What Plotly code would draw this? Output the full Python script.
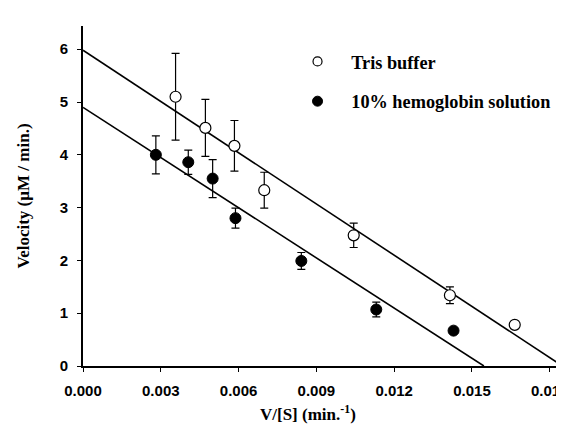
import plotly.graph_objects as go

# Tris buffer (open circles)
tris_x = [0.00357, 0.00472, 0.00584, 0.00699, 0.01044, 0.01415, 0.01665]
tris_y = [5.10, 4.51, 4.17, 3.33, 2.475, 1.34, 0.78]
tris_err = [0.82, 0.54, 0.48, 0.34, 0.23, 0.16, 0.0]

# 10% hemoglobin solution (filled circles)
hb_x = [0.00281, 0.00406, 0.00500, 0.00588, 0.00842, 0.01131, 0.01429]
hb_y = [4.00, 3.86, 3.55, 2.80, 1.99, 1.07, 0.67]
hb_err = [0.36, 0.23, 0.36, 0.19, 0.16, 0.14, 0.0]

# Fitted lines (y-intercept, x-intercept)
tris_fit_x = [0.0, 0.01849]
tris_fit_y = [5.98, 0.0]
hb_fit_x = [0.0, 0.01546]
hb_fit_y = [4.90, 0.0]

x_ticks = [0.000, 0.003, 0.006, 0.009, 0.012, 0.015, 0.018]
y_ticks = [0, 1, 2, 3, 4, 5, 6]

serif = "Liberation Serif, Times New Roman"
NB = "\u00a0" * 3

fig = go.Figure()
fig.add_trace(go.Scatter(x=tris_fit_x, y=tris_fit_y, mode="lines",
                         line=dict(color="black", width=1.6), showlegend=False, hoverinfo="skip"))
fig.add_trace(go.Scatter(x=hb_fit_x, y=hb_fit_y, mode="lines",
                         line=dict(color="black", width=1.6), showlegend=False, hoverinfo="skip"))
fig.add_trace(go.Scatter(
    x=tris_x, y=tris_y, mode="markers", name="Tris buffer", showlegend=False,
    marker=dict(symbol="circle", size=11, color="white", line=dict(color="black", width=1.2)),
    error_y=dict(type="data", array=tris_err, color="black", thickness=1.2, width=4)))
fig.add_trace(go.Scatter(
    x=hb_x, y=hb_y, mode="markers", name="10% hemoglobin solution", showlegend=False,
    marker=dict(symbol="circle", size=11, color="black", line=dict(color="black", width=1)),
    error_y=dict(type="data", array=hb_err, color="black", thickness=1.2, width=4)))
# legend entries (smaller symbols, as in the reference legend)
fig.add_trace(go.Scatter(
    x=[None], y=[None], mode="markers", name=NB + "Tris buffer", legendgroup="a",
    marker=dict(symbol="circle", size=9, color="white", line=dict(color="black", width=1.2))))
fig.add_trace(go.Scatter(
    x=[None], y=[None], mode="markers", name=NB + "10% hemoglobin solution", legendgroup="b",
    marker=dict(symbol="circle", size=10, color="black", line=dict(color="black", width=1))))

tickfont = dict(family="Liberation Sans, Arial", size=15, color="black", weight="bold")
fig.update_layout(
    width=564, height=434,
    margin=dict(l=75, r=4, t=18, b=76),
    paper_bgcolor="white", plot_bgcolor="white",
    showlegend=True,
    legend=dict(x=0.446, y=0.950, xanchor="left", yanchor="top",
                font=dict(family=serif, size=18.3, color="black", weight="bold"),
                tracegroupgap=13, bgcolor="rgba(0,0,0,0)"),
    xaxis=dict(range=[0, 0.01855], tickvals=x_ticks, tickformat=".3f",
               ticks="outside", ticklen=4, tickwidth=1, tickcolor="black",
               showline=True, linecolor="black", linewidth=2, showgrid=False, zeroline=False,
               tickfont=tickfont, ticklabelstandoff=6, ticklabeloverflow="allow"),
    yaxis=dict(range=[0, 6.44], tickvals=y_ticks,
               ticks="outside", ticklen=4, tickwidth=1, tickcolor="black",
               showline=True, linecolor="black", linewidth=2, showgrid=False, zeroline=False,
               tickfont=tickfont, ticklabelstandoff=6,
               title=dict(text="<b>Velocity (µM / min.)</b>", standoff=26,
                          font=dict(family=serif, size=17, color="black"))),
)
# x-axis title as annotation placed in paper coordinates
pw = 564 - 75 - 4
ph = 434 - 18 - 76
fig.add_annotation(text="<b>V/[S] (min.<sup>-1</sup>)</b>", xref="paper", yref="paper",
                   x=(302 - 75) / pw, y=(434 - 76 - 405) / ph, xanchor="center", yanchor="middle",
                   showarrow=False, font=dict(family=serif, size=17, color="black"))

fig.write_html("out.html")
